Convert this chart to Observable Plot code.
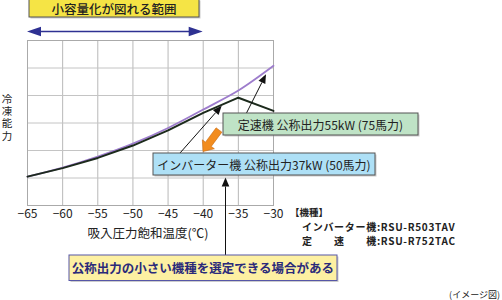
<!DOCTYPE html>
<html><head><meta charset="utf-8">
<script src="https://cdn.jsdelivr.net/npm/d3@7"></script>
<script src="https://cdn.jsdelivr.net/npm/@observablehq/plot@0.6"></script>
<style>
html,body{margin:0;padding:0;background:#fff;}
svg{font-family:"Noto Sans CJK JP","Noto Sans",sans-serif;}
</style></head><body>
<div id="chart"></div>
<script>
// Data
const temps = [-65, -60, -55, -50, -45, -40, -35, -30];
const inverterCap = [1.05, 1.38, 1.78, 2.25, 2.82, 3.49, 4.18, 5.08]; // purple
const constantCap = [1.05, 1.36, 1.73, 2.18, 2.73, 3.37, 3.92, 3.44]; // black
const xTicks = [-65, -60, -55, -50, -45, -40, -35, -30];
const yGrid = [1, 2, 3, 4, 5];

const inv = temps.map((t, i) => ({t, v: inverterCap[i]}));
const con = temps.map((t, i) => ({t, v: constantCap[i]}));

const fmt = d => d < 0 ? "\u2212" + Math.abs(d) : String(d);

const plot = Plot.plot({
  width: 502, height: 300,
  marginLeft: 27, marginRight: 229, marginTop: 40, marginBottom: 95,
  style: {fontFamily: '"Noto Sans CJK JP","Noto Sans",sans-serif', background: "#fff"},
  x: {domain: [-65, -30], ticks: xTicks, label: null},
  y: {domain: [0, 6], axis: null},
  marks: [
    Plot.gridX(xTicks, {stroke: "#b8b8b8", strokeOpacity: 1}),
    Plot.gridY(yGrid, {stroke: "#c4c4c4", strokeOpacity: 1}),
    Plot.frame({stroke: "#aaa"}),
    Plot.line(inv, {x: "t", y: "v", stroke: "#9d7ccc", strokeWidth: 1.8, curve: "catmull-rom"}),
    Plot.line(con, {x: "t", y: "v", stroke: "#1c2a1c", strokeWidth: 2, curve: "linear"}),
    Plot.axisX({ticks: xTicks, tickSize: 0, tickPadding: 4, fontSize: 12, fill: "#222",
      tickFormat: fmt, label: null})
  ]
});
document.getElementById("chart").appendChild(plot);

const svg = d3.select(plot);
const sx = plot.scale("x").apply, sy = plot.scale("y").apply;
const F = '"Noto Sans CJK JP","Noto Sans",sans-serif';

function txt(x, y, s, size, opts = {}) {
  return svg.append("text").attr("x", x).attr("y", y)
    .attr("text-anchor", opts.anchor || "start")
    .attr("dominant-baseline", "central").attr("font-size", size)
    .attr("font-weight", opts.weight || 400).attr("fill", opts.color || "#222")
    .attr("font-family", F).text(s);
}
function arrowHead(g, x1, y1, x2, y2, len, hw, fill) {
  const dx = x2 - x1, dy = y2 - y1, L = Math.hypot(dx, dy);
  const ux = dx / L, uy = dy / L, px = -uy, py = ux;
  const bx = x2 - ux * len, by = y2 - uy * len;
  g.append("polygon").attr("points",
    `${x2},${y2} ${bx + px * hw},${by + py * hw} ${bx - px * hw},${by - py * hw}`).attr("fill", fill);
  return [bx, by];
}
function thinArrow(x1, y1, x2, y2) {
  const [bx, by] = arrowHead(svg, x1, y1, x2, y2, 9, 3.8, "#111");
  svg.append("line").attr("x1", x1).attr("y1", y1).attr("x2", bx).attr("y2", by)
    .attr("stroke", "#111").attr("stroke-width", 1);
}
function box(x, y, w, h, fill, stroke, text, size, color, weight) {
  svg.append("rect").attr("x", x + 1.5).attr("y", y + 1.5).attr("width", w).attr("height", h).attr("fill", "#999").attr("opacity", 0.5);
  svg.append("rect").attr("x", x).attr("y", y).attr("width", w).attr("height", h)
    .attr("fill", fill).attr("stroke", stroke).attr("stroke-width", 1);
  txt(x + w / 2, y + h / 2, text, size, {anchor: "middle", color, weight});
}

// top range banner and double arrow
box(29, -1, 170, 18, "#f5e445", "#555", "小容量化が図れる範囲", 12.5, "#222", 500);
{
  const y = 31.5, xa = sx(-65), xb = sx(-40);
  svg.append("line").attr("x1", xa + 12).attr("x2", xb - 12).attr("y1", y).attr("y2", y)
    .attr("stroke", "#2e3192").attr("stroke-width", 1.6);
  arrowHead(svg, xa + 20, y, xa, y, 14, 4.8, "#2e3192");
  arrowHead(svg, xb - 20, y, xb, y, 14, 4.8, "#2e3192");
}

// y-axis label (vertical writing)
svg.append("text").attr("x", 7).attr("y", 94)
  .attr("writing-mode", "vertical-rl").attr("style", "writing-mode:vertical-rl;letter-spacing:1.6px")
  .attr("text-anchor", "start").attr("font-size", 10.5).attr("fill", "#222").attr("font-family", F)
  .text("冷凍能力");

// x-axis title
txt(148, 232, "吸入圧力飽和温度(℃)", 12.5, {anchor: "middle"});

// arrows pointing at curves
thinArrow(246.5, 113, sx(-31), sy(4.86) + 3);
thinArrow(180, 153, sx(-37.3), sy(3.68) + 2);

// orange thick arrow
{
  const x1 = 219, y1 = 130, x2 = 203, y2 = 151.5;
  const dx = x2 - x1, dy = y2 - y1, L = Math.hypot(dx, dy);
  const ux = dx / L, uy = dy / L, px = -uy, py = ux;
  const hl = 9, hw = 7.5, sw = 3.6;
  const bx = x2 - ux * hl, by = y2 - uy * hl;
  const pts = [
    [x1 + px * sw, y1 + py * sw], [bx + px * sw, by + py * sw], [bx + px * hw, by + py * hw],
    [x2, y2], [bx - px * hw, by - py * hw], [bx - px * sw, by - py * sw], [x1 - px * sw, y1 - py * sw]
  ];
  svg.append("polygon").attr("points", pts.map(p => p.join(",")).join(" "))
    .attr("fill", "#f28c1e").attr("stroke", "#c76a10").attr("stroke-width", 0.6);
}

// annotation boxes
box(223, 113, 195, 22, "#bfe3c6", "#555", "定速機 公称出力55kW (75馬力)", 12, "#222", 400);
box(153, 153, 222, 22, "#aee0f6", "#555", "インバーター機 公称出力37kW (50馬力)", 12, "#222", 400);

// vertical arrow from bottom note
thinArrow(225.5, 256, 225.5, 177.5);
box(69, 255, 268, 25.5, "#fdf0a2", "#5656a6", "公称出力の小さい機種を選定できる場合がある", 12.5, "#2a2a7a", 600);

// model legend
{
  const LS = "0.7px";
  const probe = txt(-999, -999, "インバーター", 10, {weight: 600}).attr("letter-spacing", LS);
  const preW = probe.node().getComputedTextLength();
  probe.remove();
  txt(290, 211.5, "【機種】", 9.5, {weight: 700});
  txt(302, 226, "インバーター機:RSU-R503TAV", 10, {weight: 600}).attr("letter-spacing", LS);
  const y2 = 240.6;
  txt(302, y2, "定", 10, {weight: 600});
  txt(302 + preW * 0.5, y2, "速", 10, {weight: 600});
  txt(302 + preW, y2, "機:RSU-R752TAC", 10, {weight: 600}).attr("letter-spacing", LS);
}

txt(500, 294, "(イメージ図)", 9, {anchor: "end"});
</script>
</body></html>
